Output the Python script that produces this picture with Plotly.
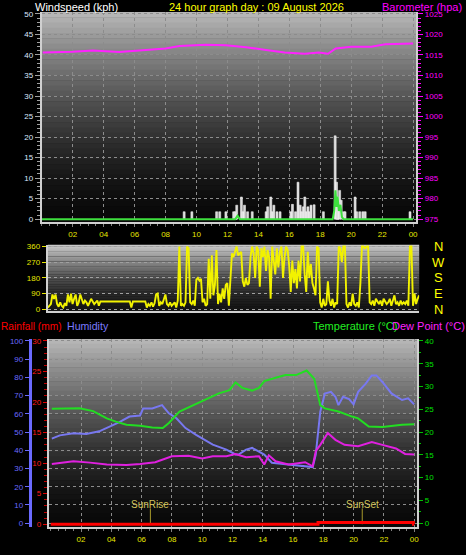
import plotly.graph_objects as go

W, H = 466, 555
def fx(p): return p / W
def fy(p): return 1 - p / H

FONT = "Liberation Sans, Arial, sans-serif"

# ---------------- data ----------------
HOUR_TICKS = [2, 4, 6, 8, 10, 12, 14, 16, 18, 20, 22, 24]
HOUR_LABELS = ["02", "04", "06", "08", "10", "12", "14", "16", "18", "20", "22", "00"]

gust_hours = [9.2, 9.7, 11.3, 11.5, 11.9, 12.4, 12.5, 12.6, 12.9, 13.0, 13.1, 13.3, 13.6,
              14.5, 14.6, 14.8, 14.9, 15.0, 15.2, 15.4, 16.1, 16.2, 16.4, 16.56, 16.7, 16.8,
              16.9, 17.0, 17.1, 17.2, 17.3, 17.4, 17.6, 18.2, 18.96, 19.05, 19.15, 19.25,
              19.35, 19.5, 19.6, 20.25, 20.35, 20.55, 20.75, 20.9, 23.8]
gust_values = [1.8, 1.8, 1.8, 1.8, 1.8, 1.8, 1.8, 3.4, 5.4, 1.8, 3.4, 1.8, 1.8,
               1.8, 3.0, 5.4, 1.8, 3.4, 1.8, 1.8, 1.8, 3.6, 1.8, 9.0, 3.4, 1.8,
               3.0, 5.4, 1.8, 3.0, 1.8, 3.4, 3.5, 1.8, 20.3, 9.0, 5.4, 7.0,
               4.6, 1.8, 1.8, 5.4, 1.8, 1.8, 1.8, 1.8, 1.8]

avg_hours = [0.0, 12.5, 12.65, 12.8, 18.8, 18.9, 18.98, 19.05, 19.12, 19.2, 19.3, 19.4, 19.5, 24.0]
avg_values = [0.0, 0.0, 0.8, 0.0, 0.0, 2.0, 7.0, 3.0, 5.5, 2.0, 3.5, 0.5, 0.0, 0.0]

baro_hours = [0.06, 1.0, 2.0, 3.3, 5.0, 6.3, 8.0, 8.9, 10.6, 11.9, 13.2, 14.5, 15.7,
              17.0, 17.9, 18.5, 19.0, 20.0, 21.3, 22.2, 23.9, 24.0]
baro_values = [1015.6, 1015.65, 1015.8, 1016.1, 1015.75, 1016.1, 1016.6, 1017.2, 1017.5,
               1017.35, 1016.9, 1016.2, 1015.6, 1015.3, 1015.6, 1015.3, 1016.6, 1017.0,
               1017.0, 1017.6, 1017.8, 1017.8]

DIR_STEP = 0.1  # hours between direction samples
wind_dir = [
    10, 20, 30, 85, 60, 85, 30, 15, 40, 20,
    10, 35, 20, 85, 40, 90, 30, 60, 85, 20,
    40, 85, 60, 30, 50, 40, 20, 45, 60, 45,
    30, 40, 50, 20, 45, 45, 45, 45, 45, 45,
    45, 45, 45, 45, 45, 45, 45, 45, 45, 45,
    45, 45, 45, 45, 10, 45, 45, 45, 45, 45,
    45, 45, 45, 45, 10, 30, 20, 40, 15, 35,
    85, 90, 20, 40, 30, 60, 85, 30, 20, 40,
    20, 30, 40, 10, 50, 360, 20, 30, 20, 40,
    360, 350, 40, 30, 50, 20, 170, 180, 165, 175,
    40, 60, 20, 30, 290, 60, 310, 80, 140, 340,
    30, 90, 40, 120, 60, 140, 150, 20, 150, 320,
    300, 330, 360, 310, 320, 330, 160, 130, 180, 140,
    150, 300, 360, 320, 180, 360, 340, 130, 350, 300,
    360, 220, 340, 300, 60, 360, 280, 200, 350, 240,
    330, 360, 180, 300, 360, 340, 250, 100, 280, 150,
    230, 120, 280, 160, 360, 360, 200, 100, 330, 180,
    260, 150, 120, 80, 360, 350, 40, 10, 60, 20,
    30, 160, 50, 20, 60, 10, 40, 30, 360, 350,
    270, 360, 360, 30, 10, 40, 20, 90, 30, 20,
    40, 10, 150, 360, 360, 350, 360, 360, 40, 30,
    50, 20, 60, 40, 30, 50, 20, 60, 45, 30,
    40, 60, 20, 50, 80, 30, 40, 20, 50, 30,
    40, 30, 50, 20, 360, 360, 20, 90, 30, 60,
    80]
dir_hours = [i * DIR_STEP for i in range(len(wind_dir))]
COMPASS_LABELS = ["N", "W", "S", "E", "N"]
COMPASS_DEGREES = [360, 270, 180, 90, 0]

temp_hours = [0.07, 1.25, 1.9, 2.8, 3.7, 4.3, 5.0, 5.9, 6.7, 7.4, 7.8, 8.5, 9.1, 9.8, 10.2,
              11.1, 11.8, 12.2, 12.65, 13.3, 13.75, 14.1, 14.85, 15.5, 16.2, 16.9, 17.4,
              17.8, 18.1, 19.0, 19.9, 20.3, 21.0, 21.9, 23.2, 24.0]
temp_values = [25.1, 25.2, 25.2, 24.6, 23.0, 22.3, 21.6, 21.4, 21.0, 20.9, 22.0, 24.5, 25.4,
               26.5, 27.0, 28.5, 29.2, 30.9, 29.7, 29.1, 29.7, 31.2, 31.9, 32.5, 32.5, 33.5,
               31.7, 25.9, 25.2, 24.5, 23.4, 23.0, 21.2, 21.1, 21.6, 21.7]

hum_hours = [0.07, 0.6, 1.5, 2.35, 3.2, 3.9, 4.5, 5.2, 5.9, 6.1, 6.7, 7.35, 7.8, 8.3, 8.9,
             9.6, 10.0, 10.7, 11.6, 12.2, 12.4, 12.9, 13.3, 13.75, 14.1, 14.6, 15.7, 16.8,
             17.3, 17.5, 17.8, 18.1, 18.5, 18.8, 19.0, 19.3, 19.7, 20.0, 20.3, 20.8, 21.2,
             21.5, 21.9, 22.5, 23.2, 23.6, 24.0]
hum_values = [46.4, 48.2, 49.3, 48.9, 50.4, 53.1, 55.3, 58.5, 59.1, 63.0, 63.0, 64.8, 60.3,
              57.6, 52.2, 48.5, 46.7, 43.1, 40.4, 37.7, 37.7, 40.4, 41.3, 39.5, 37.7, 33.2,
              32.2, 31.3, 30.8, 37.7, 61.2, 71.2, 72.1, 69.4, 64.8, 69.4, 68.1, 65.2, 72.1,
              76.6, 81.1, 81.1, 77.5, 71.2, 67.6, 68.5, 65.2]

dew_hours = [0.07, 1.5, 2.6, 3.7, 5.0, 5.9, 6.9, 8.0, 9.1, 10.0, 10.7, 11.6, 12.2, 12.9,
             13.75, 14.1, 14.4, 14.85, 15.7, 16.8, 17.3, 17.5, 17.8, 18.3, 18.8, 19.4, 20.3,
             21.2, 21.9, 22.8, 23.4, 24.0]
dew_values = [13.0, 13.6, 13.3, 12.9, 12.8, 13.0, 13.4, 14.7, 14.8, 14.2, 14.7, 14.7, 15.2,
              14.5, 14.7, 12.9, 14.9, 13.6, 12.9, 13.4, 12.5, 15.8, 17.2, 19.8, 18.3, 17.2,
              16.9, 17.8, 17.2, 16.4, 15.2, 15.1]

rain_hours = [0.0, 17.65, 23.95, 24.0]
rain_values = [0.0, 0.3, 0.0, 0.0]

sun_hours = [6.58, 20.57]
sun_labels = ["SunRise", "SunSet"]

# ---------------- figure ----------------
fig = go.Figure()

def gradient(xa, ya, top, bottom, n=40, gamma=1.6):
    for i in range(n):
        tm = (i + 0.5) / n
        g = int(round(bottom + (top - bottom) * (1 - tm) ** gamma))
        fig.add_shape(type="rect", xref=xa + " domain", yref=ya + " domain",
                      x0=0, x1=1, y0=1 - (i + 1) / n - 0.003, y1=1 - i / n,
                      fillcolor=f"rgb({g},{g},{g})", line_width=0, layer="below")

gradient("x", "y", 185, 8)
gradient("x2", "y3", 205, 20)
gradient("x3", "y4", 185, 8)

GRID = "#8c8c8c"
FRAME = "#d0d0d0"

# panel 1
fig.add_trace(go.Bar(x=gust_hours, y=gust_values, width=0.13, xaxis="x", yaxis="y",
                     marker=dict(color="#d8d8d8", line=dict(color="#ffffff", width=0.5))))
fig.add_trace(go.Scatter(x=avg_hours, y=avg_values, mode="lines", xaxis="x", yaxis="y",
                         line=dict(color="#3ee03e", width=2)))
fig.add_trace(go.Scatter(x=baro_hours, y=baro_values, mode="lines", xaxis="x", yaxis="y2",
                         line=dict(color="#ff22ff", width=2)))
# panel 2
fig.add_trace(go.Scatter(x=dir_hours, y=wind_dir, mode="lines", xaxis="x2", yaxis="y3",
                         line=dict(color="#f2f200", width=1.9)))
# panel 3
fig.add_trace(go.Scatter(x=hum_hours, y=hum_values, mode="lines", xaxis="x3", yaxis="y5",
                         line=dict(color="#7878f0", width=2)))
fig.add_trace(go.Scatter(x=temp_hours, y=temp_values, mode="lines", xaxis="x3", yaxis="y6",
                         line=dict(color="#22dd22", width=2)))
fig.add_trace(go.Scatter(x=dew_hours, y=dew_values, mode="lines", xaxis="x3", yaxis="y6",
                         line=dict(color="#e020e0", width=2)))
for h in sun_hours:
    fig.add_trace(go.Scatter(x=[h, h], y=[0, 2.6], mode="lines", xaxis="x3", yaxis="y4",
                             line=dict(color="#a89a2a", width=1)))
fig.add_trace(go.Scatter(x=rain_hours, y=rain_values, mode="lines", xaxis="x3", yaxis="y4",
                         line=dict(color="#ff0000", width=3, shape="hv")))

tick_font = dict(family=FONT, size=8)

def xcommon(**kw):
    d = dict(tickvals=HOUR_TICKS, ticktext=HOUR_LABELS, ticks="outside", ticklen=3,
             tickcolor="#808080", tickfont=dict(tick_font, color="#e6e600"),
             minor=dict(dtick=0.5, tick0=0, ticklen=2, ticks="outside", tickcolor="#808080"),
             showgrid=True, gridcolor=GRID, griddash="dot", gridwidth=1,
             showline=True, linecolor=FRAME, linewidth=2, zeroline=False, fixedrange=True)
    d.update(kw)
    return d

fig.update_layout(
    width=W, height=H, autosize=False,
    margin=dict(l=0, r=0, t=0, b=0),
    paper_bgcolor="black", plot_bgcolor="black",
    showlegend=False, barmode="overlay",
    font=dict(family=FONT, color="white"),
    xaxis=xcommon(domain=[fx(42), fx(418)], range=[0, 24.2], anchor="y"),
    yaxis=dict(domain=[fy(222), fy(10)], range=[-0.7, 50.5], tick0=0, dtick=5,
               ticks="outside", ticklen=5, tickcolor="#a0a0a0",
               tickfont=dict(tick_font, color="#dce8ff"),
               minor=dict(dtick=1, ticklen=3, ticks="outside", tickcolor="#a0a0a0"),
               showgrid=True, gridcolor=GRID, griddash="dot",
               showline=True, linecolor=FRAME, linewidth=2, zeroline=False, anchor="x"),
    yaxis2=dict(overlaying="y", side="right", anchor="x", range=[974.3, 1025.5],
                tick0=975, dtick=5, ticks="outside", ticklen=5, tickcolor="#ff00ff",
                tickfont=dict(tick_font, color="#ff00ff"),
                minor=dict(dtick=1, ticklen=3, ticks="outside", tickcolor="#ff00ff"),
                showgrid=False, showline=True, linecolor=FRAME, linewidth=2, zeroline=False),
    xaxis2=dict(domain=[fx(48), fx(421)], range=[0, 24], anchor="y3",
                showticklabels=False, ticks="", showgrid=False, zeroline=False,
                showline=True, linecolor=FRAME, linewidth=2),
    yaxis3=dict(domain=[fy(312), fy(245)], range=[-11, 370], anchor="x2",
                tickvals=COMPASS_DEGREES, ticks="outside", ticklen=4, tickcolor="#e6e600",
                tickfont=dict(tick_font, color="#e6e600"),
                showgrid=True, gridcolor="#a0a0a0", griddash="dot", zeroline=False,
                showline=True, linecolor=FRAME, linewidth=2),
    xaxis3=xcommon(domain=[fx(49), fx(419)], range=[-0.13, 24.2], anchor="y4"),
    yaxis4=dict(domain=[fy(530), fy(340)], range=[-0.49, 30.32], anchor="x3",
                tick0=0, dtick=5, ticks="outside", ticklen=4, tickcolor="#e00000",
                tickfont=dict(tick_font, color="#ff1a1a"),
                minor=dict(dtick=1, ticklen=3, ticks="outside", tickcolor="#c00000"),
                showgrid=False, zeroline=False,
                showline=True, linecolor=FRAME, linewidth=2),
    yaxis5=dict(overlaying="y4", anchor="free", position=fx(30), side="left",
                range=[-2.2, 101.1], tick0=0, dtick=10, ticks="outside", ticklen=4,
                tickcolor="#6a6aff", tickfont=dict(tick_font, color="#6a6aff"),
                showgrid=True, gridcolor=GRID, griddash="dot", zeroline=False,
                showline=True, linecolor="#6a6aff", linewidth=3),
    yaxis6=dict(overlaying="y4", anchor="x3", side="right", range=[-0.87, 40.43],
                tick0=0, dtick=5, ticks="outside", ticklen=4, tickcolor="#00c000",
                tickfont=dict(tick_font, color="#00e000"),
                minor=dict(dtick=2.5, ticklen=2, ticks="outside", tickcolor="#00c000"),
                showgrid=False, zeroline=False,
                showline=True, linecolor=FRAME, linewidth=2),
)

def label(text, x, y, color, anchor="left", size=11, xref="paper", yref="paper"):
    fig.add_annotation(text=text, x=x, y=y, xref=xref, yref=yref, xanchor=anchor,
                       yanchor="middle", showarrow=False,
                       font=dict(family=FONT, size=size, color=color))

label("Windspeed (kph)", fx(33), fy(5), "#ffffff")
label("24 hour graph day : 09 August 2026", fx(258), fy(5), "#ffff00", anchor="center")
label("Barometer (hpa)", fx(466), fy(5), "#ff00ff", anchor="right")
label("Rainfall (mm)", fx(-1), fy(327), "#ff0000", size=10.2)
label("Humidity", fx(65), fy(327), "#7b7bff", size=10.6)
label("Temperature (°C)", fx(312), fy(327), "#22ee22")
label("Dew Point (°C)", fx(392), fy(327), "#ff22ff")

for t, d in zip(COMPASS_LABELS, COMPASS_DEGREES):
    label(t, fx(440), d, "#ffff00", anchor="center", size=13, yref="y3")

for h, t in zip(sun_hours, sun_labels):
    label(t, h, 3.3, "#d2c45a", anchor="center", size=10, xref="x3", yref="y4")

fig.write_html("out.html", config={"displayModeBar": False, "staticPlot": True},
               post_script="document.body.style.margin='0';document.body.style.overflow='hidden';")
